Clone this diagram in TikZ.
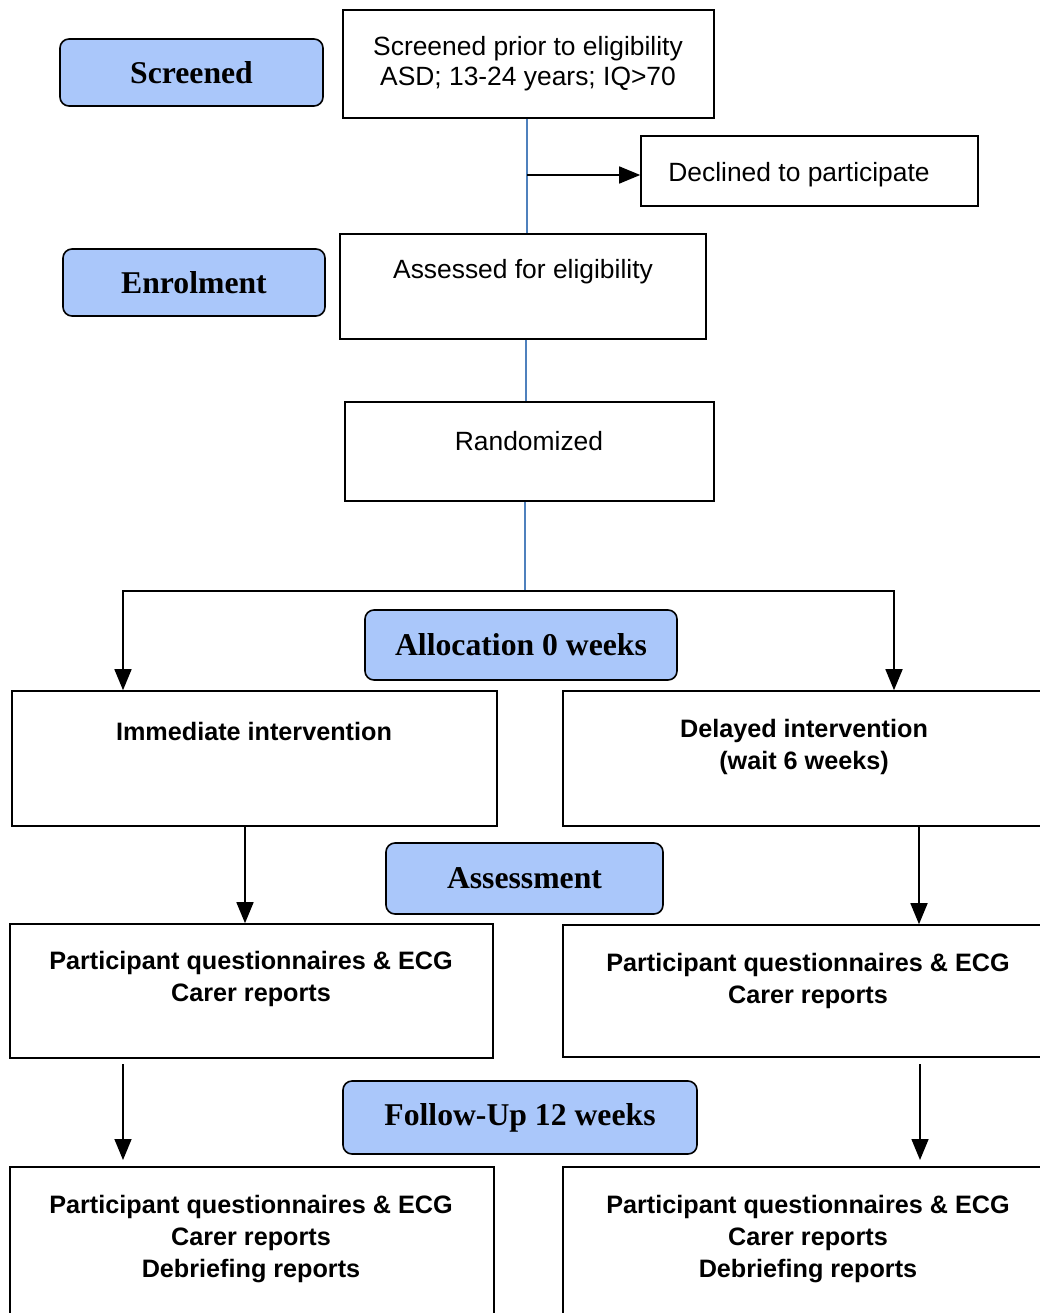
\documentclass[tikz,border=0pt]{standalone}
\usepackage{fontspec}
\setmainfont{Liberation Sans}
\newfontfamily\stagefont{Liberation Serif}
\usetikzlibrary{arrows.meta}
\definecolor{stagefill}{RGB}{170,199,250}
\definecolor{flowblue}{RGB}{79,129,189}

\begin{document}
\begin{tikzpicture}[x=1pt,y=-1pt,
  box/.style={draw=black, line width=1.6pt, inner sep=0pt},
  stage/.style={draw=black, line width=1.6pt, fill=stagefill, rounded corners=9pt,
    inner sep=0pt, font=\stagefont\fontsize{31.7}{36}\selectfont\bfseries},
  plain/.style={font=\fontsize{26.4}{30}\selectfont, align=center, inner sep=0pt},
  boldtxt/.style={font=\fontsize{25.2}{32}\selectfont\bfseries, align=center, inner sep=0pt},
  arr/.style={draw=black, line width=1.6pt, -{Triangle[length=21pt,width=17pt]}},
  link/.style={draw=flowblue, line width=1.3pt},
]
\useasboundingbox (0,0) rectangle (1040,1313);
\clip (0,0) rectangle (1040,1313);
\fill[white] (0,0) rectangle (1040,1313);

% stage labels
\node[stage, minimum width=263pt, minimum height=67pt] (stscreen) at (191.5,72.5) {Screened};
\node[stage, minimum width=262pt, minimum height=67pt] (stenrol) at (194,282.5) {Enrolment};
\node[stage, minimum width=312pt, minimum height=70pt] (stalloc) at (521,645) {Allocation 0 weeks};
\node[stage, minimum width=277pt, minimum height=71pt] (stassess) at (524.5,878.5) {Assessment};
\node[stage, minimum width=354pt, minimum height=73pt] (stfollow) at (520,1117.5) {Follow-Up 12 weeks};

% flow boxes
\node[box, minimum width=371pt, minimum height=108pt] (scrbox) at (528.5,64) {};
\node[box, minimum width=337pt, minimum height=70pt] (declbox) at (809.5,171) {};
\node[box, minimum width=366pt, minimum height=105pt] (assbox) at (523,286.5) {};
\node[box, minimum width=369pt, minimum height=99pt] (randbox) at (529.5,451.5) {};
\node[box, minimum width=485pt, minimum height=135pt] (immbox) at (254.5,758.5) {};
\node[box, minimum width=497pt, minimum height=135pt] (delbox) at (811.5,758.5) {};
\node[box, minimum width=483pt, minimum height=134pt] (pqlbox) at (251.5,991) {};
\node[box, minimum width=497pt, minimum height=132pt] (pqrbox) at (811.5,991) {};
\node[box, minimum width=484pt, minimum height=173pt] (botlbox) at (252,1253.5) {};
\node[box, minimum width=497pt, minimum height=173pt] (botrbox) at (811.5,1253.5) {};

% box texts
\node[plain] (scrtxt) at (528,64) {Screened prior to eligibility\\ASD; 13-24 years; IQ>70};
\node[plain] (decltxt) at (799,175) {Declined to participate};
\node[plain] (asstxt) at (523,272) {Assessed for eligibility};
\node[plain] (randtxt) at (529,441) {Randomized};
\node[boldtxt] (immtxt) at (254,731) {Immediate intervention};
\node[boldtxt] (deltxt) at (804,747) {Delayed intervention\\(wait 6 weeks)};
\node[boldtxt] (pqltxt) at (251,979) {Participant questionnaires \& ECG\\Carer reports};
\node[boldtxt] (pqrtxt) at (808,981) {Participant questionnaires \& ECG\\Carer reports};
\node[boldtxt] (botltxt) at (251,1239) {Participant questionnaires \& ECG\\Carer reports\\Debriefing reports};
\node[boldtxt] (botrtxt) at (808,1239) {Participant questionnaires \& ECG\\Carer reports\\Debriefing reports};

% connectors
\coordinate (declsplit) at (527,175);
\draw[link] (scrbox.south -| declsplit) -- (assbox.north -| declsplit);
\draw[arr] (declsplit) -- (declsplit -| declbox.west);

\draw[link] ([xshift=3pt]assbox.south) -- ([xshift=3pt]assbox.south |- randbox.north);

\coordinate (branch) at (525,591);
\draw[link] (randbox.south -| branch) -- (branch);
\draw[arr] (branch) -| ([xshift=-131.5pt]immbox.north);
\draw[arr] (branch) -| ([xshift=82.5pt]delbox.north);

\draw[arr] ([xshift=-9.5pt]immbox.south) -- ([xshift=-9.5pt]immbox.south |- pqlbox.north);
\draw[arr] ([xshift=107.5pt]delbox.south) -- ([xshift=107.5pt]delbox.south |- pqrbox.north);

% follow-up arrows stop short of both boxes
\coordinate (fulstart) at (123,1064);
\coordinate (fulend) at (123,1160);
\coordinate (furstart) at (920,1064);
\coordinate (furend) at (920,1160);
\draw[arr] (fulstart) -- (fulend);
\draw[arr] (furstart) -- (furend);
\end{tikzpicture}
\end{document}
